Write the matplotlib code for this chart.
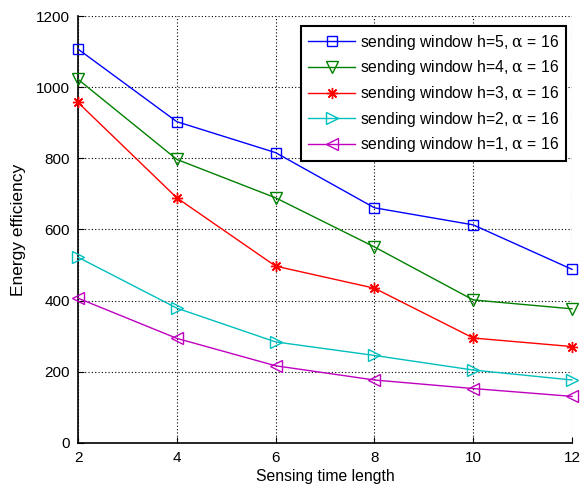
import matplotlib
matplotlib.use("Agg")
import matplotlib.pyplot as plt

plt.rcParams['font.family'] = ['Liberation Sans', 'DejaVu Sans']
plt.rcParams['mathtext.fontset'] = 'custom'
plt.rcParams['mathtext.rm'] = 'DejaVu Serif'
plt.rcParams['mathtext.it'] = 'DejaVu Serif'

x = [2, 4, 6, 8, 10, 12]
h5 = [1107, 903, 816, 661, 613, 488]
h4 = [1022, 797, 689, 551, 402, 377]
h3 = [957, 689, 497, 435, 295, 271]
h2 = [522, 379, 284, 246, 205, 177]
h1 = [407, 294, 217, 177, 153, 131]
labels = ["sending window h=5, $\\alpha$ = 16",
          "sending window h=4, $\\alpha$ = 16",
          "sending window h=3, $\\alpha$ = 16",
          "sending window h=2, $\\alpha$ = 16",
          "sending window h=1, $\\alpha$ = 16"]
xticks = [2, 4, 6, 8, 10, 12]
yticks = [0, 200, 400, 600, 800, 1000, 1200]

fig = plt.figure(figsize=(5.87, 4.91), dpi=100)
ax = fig.add_axes([0.1329, 0.0978, 0.8416, 0.8696])

asterisk = (8, 2, 0)
series = [(h5, 'blue', 's', 7.5), (h4, 'green', 'v', 8.5), (h3, 'red', asterisk, 8),
          (h2, 'c', '>', 8.5), (h1, 'm', '<', 8.5)]
for (ys, c, m, ms), lab in zip(series, labels):
    ax.plot(x, ys, color=c, marker=m, markersize=ms,
            markerfacecolor='none', markeredgecolor=c, linewidth=1,
            markeredgewidth=1, label=lab, clip_on=False, zorder=3)

ax.set_xlim(2, 12)
ax.set_ylim(0, 1200)
ax.set_xticks(xticks)
ax.set_yticks(yticks)
ax.grid(True, color='black', linestyle=(0, (1, 2)), linewidth=0.8)
for s in ['top', 'right']:
    ax.spines[s].set_visible(False)
for s in ['left', 'bottom']:
    ax.spines[s].set_linewidth(1.2)
ax.tick_params(direction='in', labelsize=11, length=4, pad=6)
ax.set_xlabel('Sensing time length', fontsize=11.3, labelpad=3)
ax.set_ylabel('Energy efficiency', fontsize=12.5, labelpad=7)

leg = ax.legend(loc='upper right', bbox_to_anchor=(0.988, 0.977), fontsize=11.3,
                fancybox=False, framealpha=1, edgecolor='black',
                handlelength=3.0, borderpad=0.45, labelspacing=0.42,
                handletextpad=0.3, borderaxespad=0)
leg.get_frame().set_linewidth(1.5)

fig.savefig('out.png', dpi=100)
